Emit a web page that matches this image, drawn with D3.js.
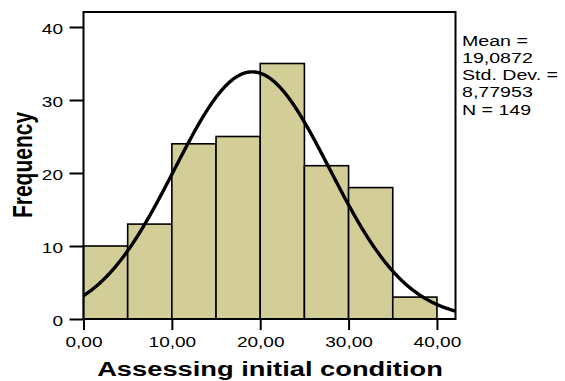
<!DOCTYPE html>
<html>
<head>
<meta charset="utf-8">
<script src="https://cdn.jsdelivr.net/npm/d3@7"></script>
<style>
  body { margin: 0; background: #fff; }
  svg text { font-family: "Liberation Sans", Arial, sans-serif; fill: #000; }
</style>
</head>
<body>
<script>
// size variables
var width = 565, height = 381;

// data: histogram bins and counts
var binStarts = [0, 5, 10, 15, 20, 25, 30, 35];
var binWidth = 5;
var counts = [10, 13, 24, 25, 35, 21, 18, 3];
var xTicks = [0, 10, 20, 30, 40];
var yTicks = [0, 10, 20, 30, 40];
var statLines = ["Mean =", "19,0872", "Std. Dev. =", "8,77953", "N = 149"];
var mean = 19.0872, sd = 8.77953, n = 149;

// plot box (note: "top" is reserved on window, so use prefixed names)
var pLeft = 83.5, pRight = 455.5, pTop = 12, pBottom = 319;
var stretch = 1.36;   // the original picture is widened horizontally

var svg = d3.select('body').append('svg').attr('width', width).attr('height', height);

var x = d3.scaleLinear().domain([0, 42.1]).range([pLeft, pRight]);
var y = d3.scaleLinear().domain([0, 40]).range([pBottom, 27]);

var bars = binStarts.map((s, i) => ({ x0: s, x1: s + binWidth, n: counts[i] }));

// bars
svg.append('g').selectAll('rect')
  .data(bars)
  .join('rect')
  .attr('x', d => x(d.x0))
  .attr('y', d => y(d.n))
  .attr('width', d => x(d.x1) - x(d.x0))
  .attr('height', d => y(0) - y(d.n))
  .attr('fill', '#d3ce98')
  .attr('stroke', '#000')
  .attr('stroke-width', 1.6);

// normal curve
svg.append('clipPath').attr('id', 'clip')
  .append('rect').attr('x', pLeft).attr('y', pTop)
  .attr('width', pRight - pLeft).attr('height', pBottom - pTop);

var curvePts = d3.range(0, 42.11, 0.1).map(v => {
  var z = (v - mean) / sd;
  return [v, n * binWidth / (sd * Math.sqrt(2 * Math.PI)) * Math.exp(-0.5 * z * z)];
});
svg.append('path')
  .datum(curvePts)
  .attr('clip-path', 'url(#clip)')
  .attr('fill', 'none')
  .attr('stroke', '#000')
  .attr('stroke-width', 3.4)
  .attr('d', d3.line().x(d => x(d[0])).y(d => y(d[1])));

// frame
svg.append('rect')
  .attr('x', pLeft).attr('y', pTop)
  .attr('width', pRight - pLeft).attr('height', pBottom - pTop)
  .attr('fill', 'none').attr('stroke', '#000').attr('stroke-width', 2);

// axes
var yAxis = d3.axisLeft(y).tickValues(yTicks).tickSize(14).tickFormat(d3.format('d'));
var gy = svg.append('g').attr('transform', 'translate(' + pLeft + ',0)').call(yAxis);
var xAxis = d3.axisBottom(x).tickValues(xTicks).tickSize(11)
  .tickFormat(d => d3.format('.2f')(d).replace('.', ','));
var gx = svg.append('g').attr('transform', 'translate(0,' + pBottom + ')').call(xAxis);

[gx, gy].forEach(g => {
  g.select('.domain').remove();
  g.selectAll('line').attr('stroke', '#000').attr('stroke-width', 2);
  g.selectAll('text').attr('font-size', 14).attr('fill', '#000')
    .attr('x', null).attr('y', null).attr('dy', null)
    .style('font-family', '"Liberation Sans", Arial, sans-serif');
});
gy.selectAll('text').attr('transform', 'translate(-20.5,6) scale(' + stretch + ',1)');
gx.selectAll('text').attr('transform', 'translate(0,28) scale(' + stretch + ',1)');

// axis titles
svg.append('text')
  .attr('transform', 'translate(270,376) scale(1.3,1)')
  .attr('text-anchor', 'middle')
  .attr('font-size', 21).attr('font-weight', 'bold')
  .text('Assessing initial condition');

svg.append('text')
  .attr('transform', 'translate(32,165) scale(' + stretch + ',1) rotate(-90)')
  .attr('text-anchor', 'middle')
  .attr('font-size', 21).attr('font-weight', 'bold')
  .text('Frequency');

// stats box
svg.append('g').selectAll('text')
  .data(statLines)
  .join('text')
  .attr('transform', (d, i) => 'translate(462,' + (45.7 + i * 17.2) + ') scale(1.4,1)')
  .attr('font-size', 14)
  .text(d => d);
</script>
</body>
</html>
